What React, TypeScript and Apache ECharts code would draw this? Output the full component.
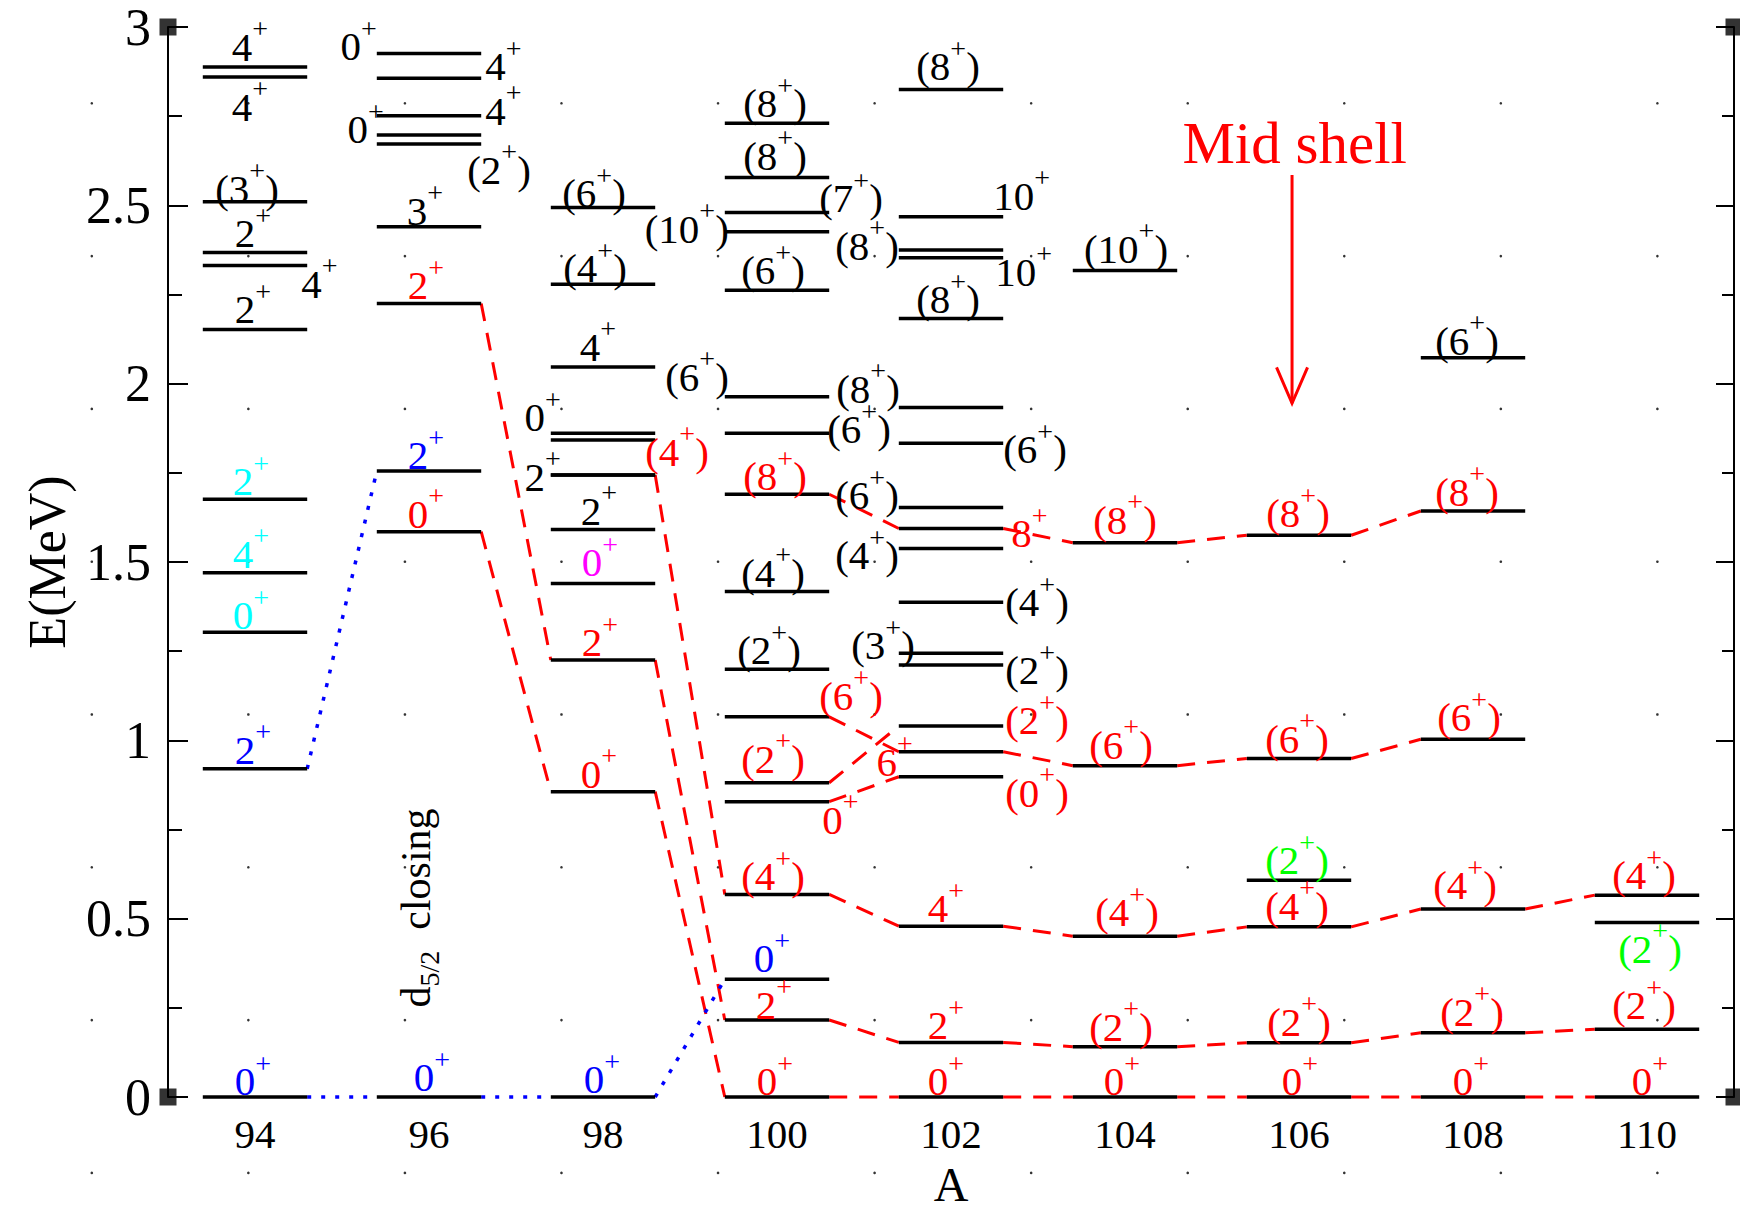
import { useEffect, useRef } from 'react';
import * as echarts from 'echarts';

const SERIF = "'Liberation Serif', 'Times New Roman', Times, serif";

// ---------------- axes ----------------
const A_RANGE = [93, 111];
const A_TICKS = [94, 96, 98, 100, 102, 104, 106, 108, 110];
const E_RANGE = [0, 3];
const E_STEP = 0.5;

// ---------------- levels: [energy (MeV), spin-parity, colour key] ----------------
const LEVELS_94 = [
  [2.888, '4+', 'k'], [2.860, '4+', 'k'], [2.510, '(3+)', 'k'], [2.368, '2+', 'k'],
  [2.331, '4+', 'k'], [2.152, '2+', 'k'], [1.676, '2+', 'c'], [1.470, '4+', 'c'],
  [1.303, '0+', 'c'], [0.920, '2+', 'b'], [0, '0+', 'b'],
];
const LEVELS_96 = [
  [2.926, '0+', 'k'], [2.856, '4+', 'k'], [2.751, '4+', 'k'], [2.697, '0+', 'k'],
  [2.672, '(2+)', 'k'], [2.440, '3+', 'k'], [2.225, '2+', 'r'], [1.755, '2+', 'b'],
  [1.585, '0+', 'r'], [0, '0+', 'b'],
];
const LEVELS_98 = [
  [2.494, '(6+)', 'k'], [2.279, '(4+)', 'k'], [2.047, '4+', 'k'], [1.861, '0+', 'k'],
  [1.842, '', 'k'], [1.744, '2+', 'k'], [1.744, '(4+)', 'r'], [1.591, '2+', 'k'],
  [1.440, '0+', 'm'], [1.225, '2+', 'r'], [0.856, '0+', 'r'], [0, '0+', 'b'],
];
const LEVELS_100 = [
  [2.730, '(8+)', 'k'], [2.578, '(8+)', 'k'], [2.480, '(7+)', 'k'], [2.426, '(10+)', 'k'],
  [2.262, '(6+)', 'k'], [1.963, '(6+)', 'k'], [1.861, '(6+)', 'k'], [1.690, '(8+)', 'r'],
  [1.417, '(4+)', 'k'], [1.199, '(2+)', 'k'], [1.066, '(6+)', 'r'], [0.881, '(2+)', 'r'],
  [0.828, '0+', 'r'], [0.568, '(4+)', 'r'], [0.330, '0+', 'b'], [0.216, '2+', 'r'],
  [0, '0+', 'r'],
];
const LEVELS_102 = [
  [2.825, '(8+)', 'k'], [2.468, '10+', 'k'], [2.375, '(8+)', 'k'], [2.353, '10+', 'k'],
  [2.183, '(8+)', 'k'], [1.933, '(8+)', 'k'], [1.833, '(6+)', 'k'], [1.653, '(6+)', 'k'],
  [1.594, '8+', 'r'], [1.538, '(4+)', 'k'], [1.387, '(4+)', 'k'], [1.244, '(3+)', 'k'],
  [1.211, '(2+)', 'k'], [1.040, '(2+)', 'r'], [0.968, '6+', 'r'], [0.898, '(0+)', 'r'],
  [0.479, '4+', 'r'], [0.153, '2+', 'r'], [0, '0+', 'r'],
];
const LEVELS_104 = [
  [2.317, '(10+)', 'k'], [1.554, '(8+)', 'r'], [0.929, '(6+)', 'r'], [0.451, '(4+)', 'r'],
  [0.141, '(2+)', 'r'], [0, '0+', 'r'],
];
const LEVELS_106 = [
  [1.575, '(8+)', 'r'], [0.949, '(6+)', 'r'], [0.608, '(2+)', 'g'], [0.477, '(4+)', 'r'],
  [0.152, '(2+)', 'r'], [0, '0+', 'r'],
];
const LEVELS_108 = [
  [2.073, '(6+)', 'k'], [1.643, '(8+)', 'r'], [1.003, '(6+)', 'r'], [0.527, '(4+)', 'r'],
  [0.180, '(2+)', 'r'], [0, '0+', 'r'],
];
const LEVELS_110 = [
  [0.566, '(4+)', 'r'], [0.489, '(2+)', 'g'], [0.190, '(2+)', 'r'], [0, '0+', 'r'],
];

// ---------------- label layout (side, dx px, dy px) — styling only ----------------
const PLACE_94 = [['a', -5, -20], ['b', -5, 30], ['a', -8, -13], ['a', -2, -19], ['r', -6, 18], ['a', -2, -20], ['a', -4, -18], ['a', -4, -19], ['a', -4, -17], ['a', -2, -19], ['a', -2, -16]];
const PLACE_96 = [['l', 0, -7], ['r', 4, -12], ['r', 4, -5], ['l', 7, -6], ['r', -14, 26], ['a', -4, -16], ['a', -3, -18], ['a', -3, -16], ['a', -3, -18], ['a', 3, -20]];
const PLACE_98 = [['a', -9, -14], ['a', -8, -16], ['a', -5, -20], ['l', 10, -16], ['a', 0, 0], ['l', 10, 2], ['r', -10, -23], ['a', -4, -19], ['a', -3, -21], ['a', -3, -18], ['a', -4, -18], ['a', -1, -18]];
const PLACE_100 = [['a', -2, -20], ['a', -2, -22], ['r', -10, -14], ['l', 4, -3], ['a', -4, -20], ['l', 4, -20], ['r', -2, -4], ['a', -2, -18], ['a', -4, -19], ['a', -8, -19], ['r', -10, -21], ['a', -4, -24], ['r', -7, 18], ['a', -4, -18], ['a', -5, -21], ['a', -3, -15], ['a', -2, -16]];
const PLACE_102 = [['a', -3, -23], ['r', -10, -21], ['l', 0, -4], ['r', -8, 14], ['a', -3, -19], ['l', 1, -19], ['r', 0, 6], ['l', 0, -12], ['r', 8, 5], ['l', 0, 7], ['r', 2, 0], ['l', 16, -8], ['r', 2, 5], ['r', 2, -6], ['l', 14, 10], ['r', 2, 16], ['a', -5, -18], ['a', -5, -17], ['a', -5, -16]];
const PLACE_104 = [['a', 1, -22], ['a', 0, -23], ['a', -4, -21], ['a', 2, -24], ['a', -4, -20], ['a', -3, -16]];
const PLACE_106 = [['a', -1, -22], ['a', -2, -20], ['a', -2, -20], ['a', -2, -21], ['a', 0, -21], ['a', 1, -16]];
const PLACE_108 = [['a', -6, -17], ['a', -6, -19], ['a', -4, -22], ['a', -8, -24], ['a', -1, -21], ['a', -2, -16]];
const PLACE_110 = [['a', -3, -20], ['b', 3, 26], ['a', -3, -24], ['a', 3, -16]];

const NUCLEI: [number, any[], any[]][] = [
  [94, LEVELS_94, PLACE_94], [96, LEVELS_96, PLACE_96], [98, LEVELS_98, PLACE_98],
  [100, LEVELS_100, PLACE_100], [102, LEVELS_102, PLACE_102], [104, LEVELS_104, PLACE_104],
  [106, LEVELS_106, PLACE_106], [108, LEVELS_108, PLACE_108], [110, LEVELS_110, PLACE_110],
];

// ---------------- band connections: [A, E] ----------------
const BAND_0 = [[96, 1.585], [98, 0.856], [100, 0], [102, 0], [104, 0], [106, 0], [108, 0], [110, 0]];
const BAND_2 = [[96, 2.225], [98, 1.225], [100, 0.216], [102, 0.153], [104, 0.141], [106, 0.152], [108, 0.180], [110, 0.190]];
const BAND_4 = [[98, 1.744], [100, 0.568], [102, 0.479], [104, 0.451], [106, 0.477], [108, 0.527], [110, 0.566]];
const BAND_6 = [[100, 1.066], [102, 0.968], [104, 0.929], [106, 0.949], [108, 1.003]];
const BAND_8 = [[100, 1.690], [102, 1.594], [104, 1.554], [106, 1.575], [108, 1.643]];
const SIDE_0 = [[100, 0.828], [102, 0.898]];
const SIDE_2 = [[100, 0.881], [102, 1.040]];
const SPH_0 = [[94, 0], [96, 0], [98, 0], [100, 0.330]];
const SPH_2 = [[94, 0.920], [96, 1.755]];

const RED_BANDS = [BAND_0, BAND_2, BAND_4, BAND_6, BAND_8, SIDE_0, SIDE_2];
const BLUE_BANDS = [SPH_0, SPH_2];

// annotations (data coordinates)
const MID_SHELL = { A: 105.95, textE: 2.675, fromE: 2.585, toE: 1.945 };
const D52_NOTE = { A: 95.85, E: 0.53 };

// ---------------- styling ----------------
const HALF = 0.6; // half level width in A units
const COLORS: Record<string, string> = {
  k: '#000000', r: '#ff0000', b: '#0000ff', c: '#00ffff', m: '#ff00ff', g: '#00ff00',
};
const RICH = {
  n: { fontSize: 41, fontFamily: SERIF },
  s: { fontSize: 28, fontFamily: SERIF, padding: [0, 0, 36, 0] },
};
const richOf = (s: string) => s.split('+').map((p) => (p ? `{n|${p}}` : '')).join('{s|+}');

function buildOption() {
  const levelItems: any[] = [];
  NUCLEI.forEach(([A, levels, place]) => {
    levels.forEach((lv: any, i: number) => {
      const p = place[i] || ['a', 0, -19];
      levelItems.push({ A, E: lv[0], J: lv[1], C: lv[2], side: p[0], dx: p[1], dy: p[2] });
    });
  });
  const labelItems = levelItems.filter((l) => l.J);

  const segs = (bands: number[][][]) => {
    const out: number[][] = [];
    bands.forEach((b) => {
      for (let i = 0; i < b.length - 1; i++) {
        out.push([b[i][0] + HALF, b[i][1], b[i + 1][0] - HALF, b[i + 1][1]]);
      }
    });
    return out;
  };

  const segRender = (stroke: string, lineDash: number[], lineWidth: number) => (params: any, api: any) => {
    const p1 = api.coord([api.value(0), api.value(1)]);
    const p2 = api.coord([api.value(2), api.value(3)]);
    return {
      type: 'line',
      shape: { x1: p1[0], y1: p1[1], x2: p2[0], y2: p2[1] },
      style: { stroke, lineWidth, lineDash, fill: null },
    };
  };

  // background dot grid (decoration of the page)
  const dots: any[] = [];
  for (let i = 0; i < 11; i++) {
    for (let j = 0; j < 8; j++) {
      dots.push({
        type: 'circle',
        shape: { cx: 91.8 + i * 156.56, cy: 103.3 + j * 152.8, r: 1.3 },
        style: { fill: '#333' },
        silent: true,
      });
    }
  }

  const axisCommon = {
    type: 'value',
    min: E_RANGE[0],
    max: E_RANGE[1],
    interval: E_STEP,
    splitLine: { show: false },
    minorSplitLine: { show: false },
    axisLine: { show: true, lineStyle: { color: '#000', width: 2 } },
  };

  return {
    animation: false,
    backgroundColor: '#ffffff',
    grid: { left: 168, right: 6, top: 27, bottom: 115, containLabel: false, outerBoundsMode: 'none' },
    graphic: { elements: [{ type: 'group', silent: true, z: -10, children: dots }] },
    xAxis: {
      type: 'value',
      min: A_RANGE[0],
      max: A_RANGE[1],
      axisLine: { show: false },
      axisTick: { show: false },
      splitLine: { show: false },
      axisLabel: { customValues: A_TICKS, fontSize: 41, fontFamily: SERIF, color: '#000', margin: 16 },
      name: 'A',
      nameLocation: 'middle',
      nameGap: 70,
      nameMoveOverlap: false,
      nameTextStyle: { fontSize: 48, fontFamily: SERIF, color: '#000', lineHeight: 34 },
    },
    yAxis: [
      {
        ...axisCommon,
        position: 'left',
        axisTick: { show: true, inside: true, length: 20, lineStyle: { color: '#000', width: 2 } },
        minorTick: { show: true, splitNumber: 2, length: 14, lineStyle: { color: '#000', width: 2 } },
        axisLabel: { fontSize: 52, fontFamily: SERIF, color: '#000', margin: 17 },
        name: 'E(MeV)',
        nameLocation: 'middle',
        nameGap: 95,
        nameMoveOverlap: false,
        nameTextStyle: { fontSize: 52, fontFamily: SERIF, color: '#000' },
      },
      {
        ...axisCommon,
        position: 'right',
        axisTick: { show: true, inside: true, length: 18, lineStyle: { color: '#000', width: 2 } },
        minorTick: { show: true, splitNumber: 2, length: 12, lineStyle: { color: '#000', width: 2 } },
        axisLabel: { show: false },
      },
    ],
    series: [
      {
        type: 'custom',
        name: 'deformed bands',
        data: segs(RED_BANDS),
        renderItem: segRender('#ff0000', [18, 12], 3),
        z: 2,
      },
      {
        type: 'custom',
        name: 'spherical bands',
        data: segs(BLUE_BANDS),
        renderItem: segRender('#0000ff', [4, 10], 3.5),
        z: 2,
      },
      {
        type: 'custom',
        name: 'levels',
        data: levelItems.map((l) => [l.A, l.E]),
        renderItem: (params: any, api: any) => {
          const a = api.value(0);
          const e = api.value(1);
          const p1 = api.coord([a - HALF, e]);
          const p2 = api.coord([a + HALF, e]);
          return {
            type: 'line',
            shape: { x1: p1[0], y1: p1[1], x2: p2[0], y2: p2[1] },
            style: { stroke: '#000', lineWidth: 3.5 },
          };
        },
        z: 3,
      },
      {
        type: 'custom',
        name: 'spin labels',
        data: labelItems.map((l) => [l.A, l.E]),
        renderItem: (params: any, api: any) => {
          const it = labelItems[params.dataIndex];
          const c = api.coord([api.value(0), api.value(1)]);
          const half = api.size([HALF * 2, 0])[0] / 2;
          let x = c[0] + it.dx;
          let align = 'center';
          if (it.side === 'l') {
            x = c[0] - half + it.dx;
            align = 'right';
          } else if (it.side === 'r') {
            x = c[0] + half + it.dx;
            align = 'left';
          }
          return {
            type: 'text',
            x,
            y: c[1] + it.dy,
            style: {
              text: richOf(it.J),
              rich: RICH,
              fill: COLORS[it.C],
              align,
              verticalAlign: 'middle',
            },
          };
        },
        z: 4,
      },
      {
        type: 'custom',
        name: 'annotations',
        data: [[MID_SHELL.A, MID_SHELL.textE]],
        renderItem: (params: any, api: any) => {
          const t = api.coord([MID_SHELL.A, MID_SHELL.textE]);
          const f = api.coord([MID_SHELL.A - 0.03, MID_SHELL.fromE]);
          const tip = api.coord([MID_SHELL.A - 0.03, MID_SHELL.toE]);
          const d = api.coord([D52_NOTE.A, D52_NOTE.E]);
          return {
            type: 'group',
            children: [
              {
                type: 'text',
                x: t[0],
                y: t[1],
                style: { text: 'Mid shell', fill: '#ff0000', fontSize: 59, fontFamily: SERIF, align: 'center', verticalAlign: 'middle' },
              },
              {
                type: 'line',
                shape: { x1: f[0], y1: f[1], x2: tip[0], y2: tip[1] },
                style: { stroke: '#ff0000', lineWidth: 3 },
              },
              {
                type: 'polyline',
                shape: { points: [[tip[0] - 15.5, tip[1] - 36], [tip[0], tip[1]], [tip[0] + 15.5, tip[1] - 36]] },
                style: { stroke: '#ff0000', lineWidth: 3, fill: null },
              },
              {
                type: 'text',
                x: d[0],
                y: d[1],
                rotation: Math.PI / 2,
                style: {
                  text: '{d|d}{u|5/2}{d|  closing}',
                  rich: {
                    d: { fontSize: 42, fontFamily: SERIF },
                    u: { fontSize: 28, fontFamily: SERIF, padding: [28, 0, 0, 0] },
                  },
                  fill: '#000',
                  align: 'center',
                  verticalAlign: 'middle',
                },
              },
            ],
          };
        },
        z: 4,
      },
      {
        type: 'scatter',
        name: 'frame corners',
        data: [[A_RANGE[0], E_RANGE[0]], [A_RANGE[0], E_RANGE[1]], [A_RANGE[1], E_RANGE[0]], [A_RANGE[1], E_RANGE[1]]],
        symbol: 'rect',
        symbolSize: 17,
        itemStyle: { color: '#000' },
        clip: false,
        silent: true,
        z: 5,
      },
    ],
  };
}

export default function App() {
  const ref = useRef<HTMLDivElement>(null);
  useEffect(() => {
    if (!ref.current) return;
    const chart = echarts.init(ref.current, null, { renderer: 'svg' });
    chart.setOption(buildOption() as any);
    return () => chart.dispose();
  }, []);
  return (
    <div
      ref={ref}
      style={{ position: 'absolute', left: 0, top: 0, width: 1740, height: 1212, background: '#fff' }}
    />
  );
}
